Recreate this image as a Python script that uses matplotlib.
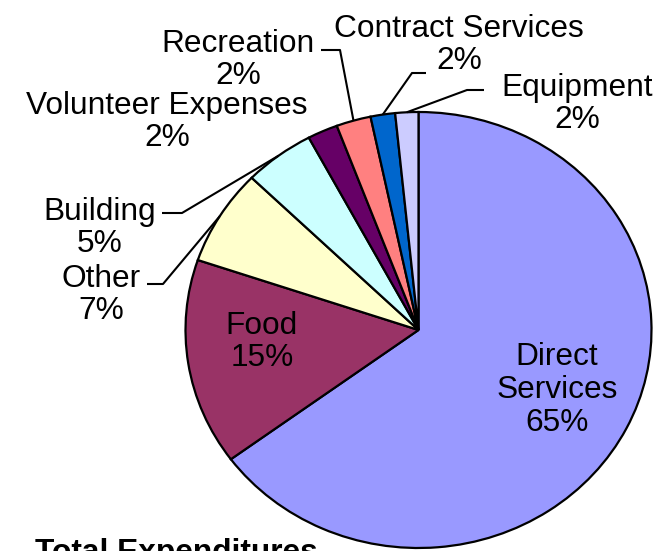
import numpy as np
import matplotlib.pyplot as plt

plt.rcParams['font.family'] = ['Liberation Sans', 'DejaVu Sans']

categories = ['Direct Services', 'Food', 'Other', 'Building', 'Volunteer Expenses',
              'Recreation', 'Contract Services', 'Equipment']
values = [64.9, 15.3, 7.1, 4.9, 2.1, 2.4, 1.7, 1.6]
colors = ['#9999FF', '#993366', '#FFFFCC', '#CCFFFF', '#660066',
          '#FF8080', '#0066CC', '#CCCCFF']

# pie centre / radii in image pixels (the picture is a bit wider than tall)
CX, CY, RX, RY = 418.5, 330, 233, 218
W, H = 665, 551

def px(x, y):
    return (x - CX) / RX, (CY - y) / RY

fig = plt.figure(figsize=(W / 100, H / 100), dpi=100)
ax = fig.add_axes([0, 0, 1, 1])
wedges, _ = ax.pie(values, colors=colors, startangle=90, counterclock=False,
                   radius=1, wedgeprops=dict(edgecolor='black', linewidth=1.6))
ax.set_aspect('auto')
ax.set_xlim(px(0, 0)[0], px(W, 0)[0])
ax.set_ylim(px(0, H)[1], px(0, 0)[1])
ax.axis('off')

pct = ['%d%%' % round(v) for v in values]
fs = 22.8

# label text centres (pixels)
label_pos = {
    'Direct Services': (557, 390),
    'Food': (262, 342),
    'Other': (101, 295),
    'Building': (100, 228),
    'Volunteer Expenses': (167, 122),
    'Recreation': (238, 60),
    'Contract Services': (459, 45),
    'Equipment': (577, 104),
}
# leader lines: start next to the text, elbow, then to the wedge
leaders = {
    'Recreation': [(321, 50), (340, 50)],
    'Contract Services': [(426, 73), (412, 73)],
    'Equipment': [(484, 90), (467, 90)],
    'Building': [(162, 213), (182, 213)],
    'Other': [(147, 284), (163, 284)],
}

for w, cat, p in zip(wedges, categories, pct):
    name = cat.replace('Direct Services', 'Direct\nServices')
    x, y = px(*label_pos[cat])
    ax.text(x, y, name + '\n' + p, ha='center', va='center', fontsize=fs,
            linespacing=1.12)
    if cat in leaders:
        th = np.deg2rad((w.theta1 + w.theta2) / 2)
        pts = [px(*q) for q in leaders[cat]] + [(np.cos(th), np.sin(th))]
        xs, ys = zip(*pts)
        ax.plot(xs, ys, color='black', lw=1.5, solid_capstyle='butt')

tx, ty = px(35, 538)
ax.text(tx, ty, 'Total Expenditures', ha='left', va='top', fontsize=fs,
        fontweight='bold')

fig.savefig('out.png', dpi=100)
